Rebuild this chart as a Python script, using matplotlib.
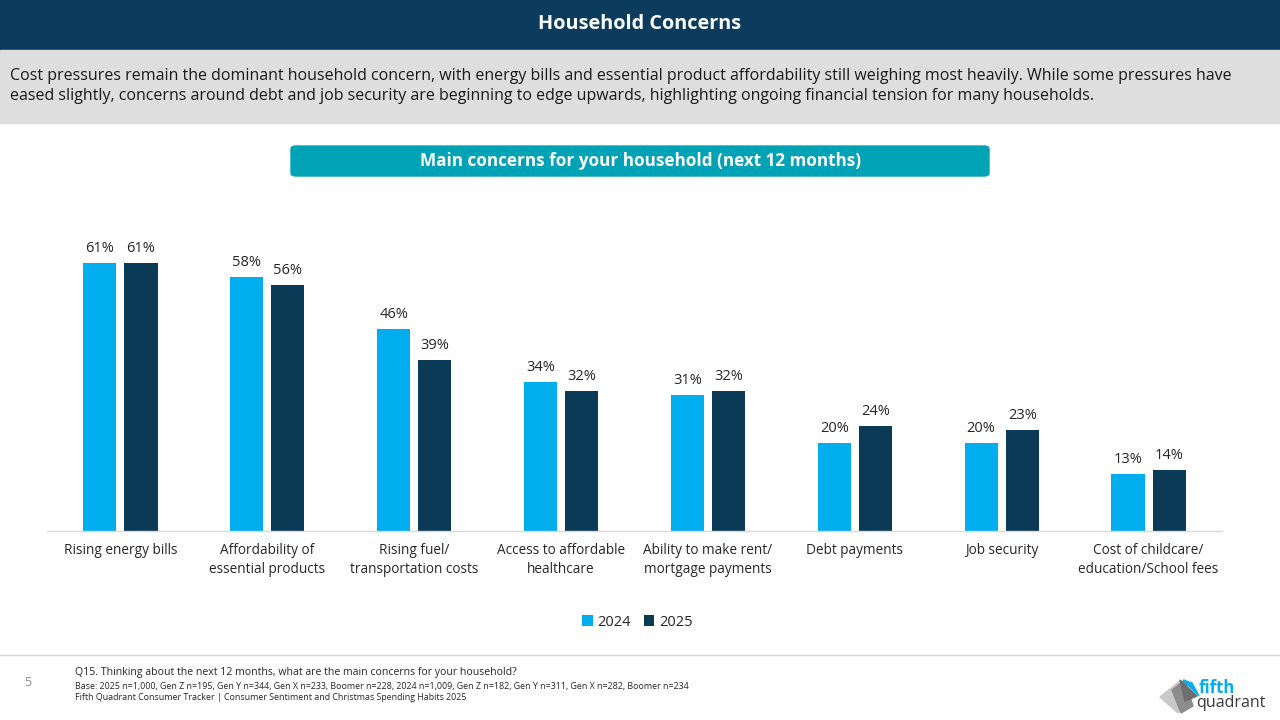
import matplotlib
matplotlib.use("Agg")
import matplotlib.pyplot as plt
from matplotlib.patches import Rectangle, FancyBboxPatch, Polygon
import numpy as np

plt.rcParams['font.family'] = ['Open Sans', 'DejaVu Sans']

categories = ["Rising energy bills", "Affordability of\nessential products", "Rising fuel/\ntransportation costs",
              "Access to affordable\nhealthcare", "Ability to make rent/\nmortgage payments", "Debt payments",
              "Job security", "Cost of childcare/\neducation/School fees"]
values_2024 = [61, 58, 46, 34, 31, 20, 20, 13]
values_2025 = [61, 56, 39, 32, 32, 24, 23, 14]
series_labels = ["2024", "2025"]

C24 = "#00AEEF"
C25 = "#0B3A57"
NAVY = "#0B3C5D"

W, H = 1280, 720
fig = plt.figure(figsize=(12.8, 7.2), dpi=100)

def fx(x): return x / W
def fy(y): return 1 - y / H

# header bar
fig.patches.append(Rectangle((0, fy(50)), 1, 50 / H, transform=fig.transFigure, color=NAVY, zorder=0))
fig.text(0.5, fy(24), "Household Concerns", color="white", fontsize=14.3, fontweight="bold",
         ha="center", va="center")
# grey summary band
fig.patches.append(Rectangle((0, fy(123)), 1, 73 / H, transform=fig.transFigure, color="#DEDEDE", zorder=0))
fig.text(fx(10), fy(86), "Cost pressures remain the dominant household concern, with energy bills and essential product affordability still weighing most heavily. While some pressures have\n"
         "eased slightly, concerns around debt and job security are beginning to edge upwards, highlighting ongoing financial tension for many households.",
         color="#1a1a1a", fontsize=11.5, ha="left", va="center", linespacing=1.35)
# teal subtitle box
fig.patches.append(FancyBboxPatch((fx(291), fy(176)), (989 - 291) / W, 30 / H, transform=fig.transFigure,
                                  boxstyle="round,pad=0,rounding_size=0.004", color="#00A2B5", zorder=0))
fig.text(fx(640), fy(161), "Main concerns for your household (next 12 months)", color="white", fontsize=12.3,
         fontweight="bold", ha="center", va="center")

# chart
ax = fig.add_axes([fx(47), fy(531), (1222 - 47) / W, (531 - 180) / H])
x = np.arange(len(categories))
bw = 0.226
off = 0.140
b1 = ax.bar(x - off, values_2024, bw, color=C24, label=series_labels[0])
b2 = ax.bar(x + off, values_2025, bw, color=C25, label=series_labels[1])
for bars in (b1, b2):
    for r in bars:
        ax.annotate(f"{r.get_height():.0f}%", (r.get_x() + r.get_width() / 2, r.get_height()),
                    xytext=(0, 5), textcoords="offset points", ha="center", va="bottom",
                    fontsize=10.5, color="#262626")
ax.set_xlim(-0.5, len(categories) - 0.5)
ax.set_ylim(0, 80)
ax.set_yticks([])
ax.set_xticks(x)
ax.set_xticklabels(categories, fontsize=9.8, color="#262626", linespacing=1.3)
ax.tick_params(axis="x", length=0, pad=9)
for s in ["top", "right", "left"]:
    ax.spines[s].set_visible(False)
ax.spines["bottom"].set_color("#D9D9D9")
ax.spines["bottom"].set_linewidth(1)

leg = fig.legend(handles=[b1, b2], labels=series_labels, loc="center", bbox_to_anchor=(fx(637), fy(622)),
                 ncol=2, frameon=False, fontsize=10.5, handlelength=0.75, handleheight=0.75,
                 handletextpad=0.3, columnspacing=0.9)
for t in leg.get_texts():
    t.set_color("#262626")

# footer
fig.add_artist(plt.Line2D([0, 1], [fy(655), fy(655)], transform=fig.transFigure, color="#D9D9D9", lw=1))
fig.text(fx(28), fy(683), "5", fontsize=9, color="#8C8C8C", ha="center", va="center")
fig.text(fx(75), fy(672), "Q15. Thinking about the next 12 months, what are the main concerns for your household?",
         fontsize=7.6, color="#262626", ha="left", va="center")
fig.text(fx(75), fy(686), "Base: 2025 n=1,000, Gen Z n=195, Gen Y n=344, Gen X n=233, Boomer n=228, 2024 n=1,009, Gen Z n=182, Gen Y n=311, Gen X n=282, Boomer n=234",
         fontsize=6.4, color="#262626", ha="left", va="center")
fig.text(fx(75), fy(698), "Fifth Quadrant Consumer Tracker | Consumer Sentiment and Christmas Spending Habits 2025",
         fontsize=6.4, color="#262626", ha="left", va="center")

# logo
def P(pts, c):
    fig.patches.append(Polygon([(fx(a), fy(b)) for a, b in pts], closed=True, transform=fig.transFigure,
                               color=c, zorder=3))
P([(1160, 697), (1180, 681), (1188, 698), (1178, 713)], "#C8C8C8")
P([(1172, 690), (1185, 680), (1193, 706), (1181, 713)], "#8C8C8C")
P([(1180, 680), (1197, 696), (1185, 701)], "#6E6E6E")
P([(1183, 680), (1199, 696), (1192, 683)], "#00AEEF")
fig.text(fx(1199), fy(688), "fifth", fontsize=12, color="#00AEEF", fontweight="bold", ha="left", va="center")
fig.text(fx(1196), fy(703), "quadrant", fontsize=11.5, color="#3A3A3A", ha="left", va="center")

fig.savefig("out.png", dpi=100)
